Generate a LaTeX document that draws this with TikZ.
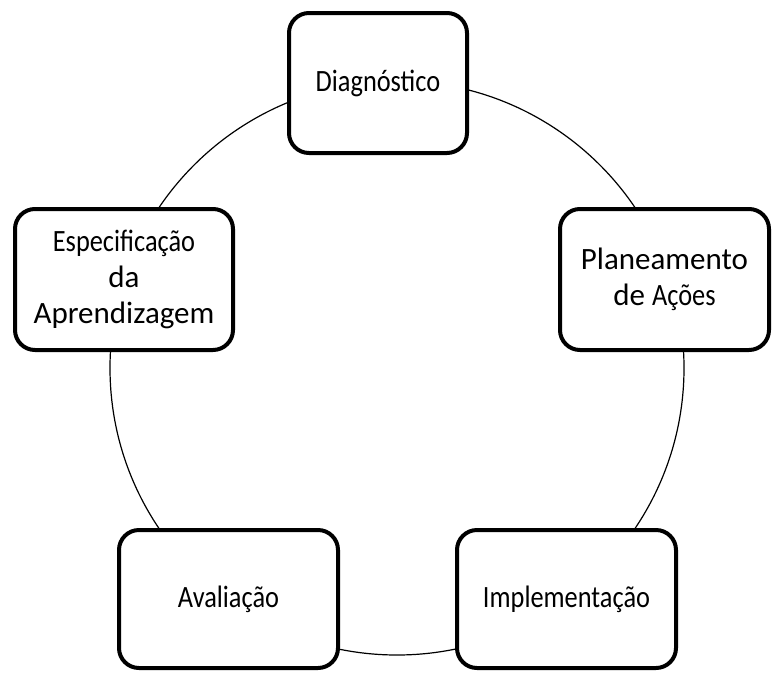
\documentclass[tikz,border=0pt]{standalone}
\usepackage{fontspec}
\setmainfont{Carlito}
\newfontfamily\thinfont[FakeStretch=0.85]{Carlito}

\tikzset{
  etapa/.style={draw, line width=4pt, rounded corners=20pt, fill=white,
    align=center, font=\fontsize{31}{36}\selectfont},
}

\begin{document}
\begin{tikzpicture}[x=1pt, y=-1pt]
    \useasboundingbox (0,0) rectangle (773,672);
    % ciclo
    \draw[line width=1.2pt] (397,368) circle (287pt);
    % etapas
    \node[etapa, minimum width=178pt, minimum height=140pt] (diag) at (378,83) {\thinfont Diagnóstico};
    \node[etapa, minimum width=209pt, minimum height=141pt] (plan) at (664.5,279.5) {Planeamento\\de {\thinfont Ações}};
    \node[etapa, minimum width=218pt, minimum height=141pt] (espec) at (124,279.5) {{\thinfont Especificação}\\da\\Aprendizagem};
    \node[etapa, minimum width=219pt, minimum height=138pt] (aval) at (228.5,599) {\thinfont Avaliação};
    \node[etapa, minimum width=219pt, minimum height=138pt] (impl) at (566.5,599) {\thinfont Implementação};
\end{tikzpicture}
\end{document}
